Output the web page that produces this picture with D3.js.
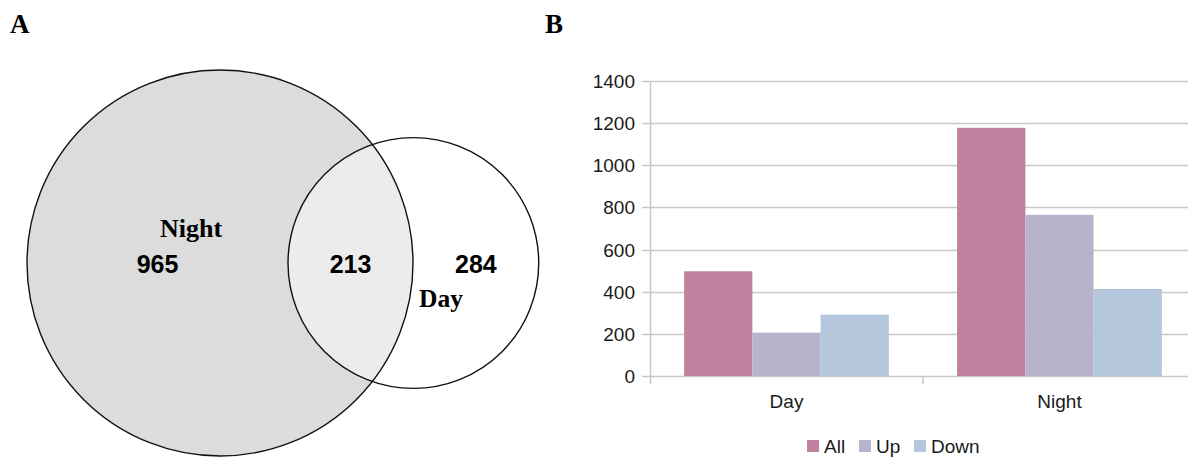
<!DOCTYPE html>
<html>
<head>
<meta charset="utf-8">
<script src="https://cdn.jsdelivr.net/npm/d3@7"></script>
<style>
  body { margin: 0; background: #fff; }
  svg { display: block; }
</style>
</head>
<body>
<div id="chart"></div>
<script>
// dados
const setNames = ["Night", "Day"];
const onlyCounts = [965, 284];   // Night só, Day só
const bothCount = 213;           // interseção

const categories = ["Day", "Night"];
const series = ["All", "Up", "Down"];
const allValues = [497, 1178];
const upValues = [206, 765];
const downValues = [291, 413];
const yTicks = [0, 200, 400, 600, 800, 1000, 1200, 1400];
const colors = ["#c0809e", "#b7b3ca", "#b5c7dc"];

const largura = 1188, altura = 457;

const svg = d3.select("#chart").append("svg")
    .attr("width", largura)
    .attr("height", altura);

// letras dos painéis
svg.append("text").attr("x", 10).attr("y", 33)
    .attr("font-family", "Liberation Serif").attr("font-weight", "bold")
    .attr("font-size", 27).text("A");
svg.append("text").attr("x", 545).attr("y", 33)
    .attr("font-family", "Liberation Serif").attr("font-weight", "bold")
    .attr("font-size", 27).text("B");

// ---------- A: Venn proporcional à área ----------
const totalNight = onlyCounts[0] + bothCount;
const totalDay = onlyCounts[1] + bothCount;
const r = d3.scaleSqrt().domain([0, totalNight]).range([0, 193]);
const r1 = r(totalNight), r2 = r(totalDay);

function lensArea(d) {
  if (d >= r1 + r2) return 0;
  const a1 = Math.acos((d*d + r1*r1 - r2*r2) / (2*d*r1));
  const a2 = Math.acos((d*d + r2*r2 - r1*r1) / (2*d*r2));
  const k = Math.sqrt((-d+r1+r2)*(d+r1-r2)*(d-r1+r2)*(d+r1+r2));
  return r1*r1*a1 + r2*r2*a2 - 0.5*k;
}
const alvo = Math.PI * r(bothCount) ** 2;
let lo = r1 - r2 + 0.01, hi = r1 + r2;
for (let i = 0; i < 60; i++) {
  const mid = (lo + hi) / 2;
  if (lensArea(mid) > alvo) lo = mid; else hi = mid;
}
const dist = (lo + hi) / 2;

const cy = 263;
const c1 = 220, c2 = c1 + dist;

const venn = svg.append("g");
const defs = svg.append("defs");
defs.append("clipPath").attr("id", "clipNight")
  .append("circle").attr("cx", c1).attr("cy", cy).attr("r", r1);

venn.append("circle").attr("cx", c1).attr("cy", cy).attr("r", r1)
    .attr("fill", "#dcdcdc");
venn.append("circle").attr("cx", c2).attr("cy", cy).attr("r", r2)
    .attr("fill", "#ececec").attr("clip-path", "url(#clipNight)");
venn.selectAll("circle.borda")
  .data([[c1, r1], [c2, r2]])
  .join("circle")
    .attr("class", "borda")
    .attr("cx", d => d[0]).attr("cy", cy).attr("r", d => d[1])
    .attr("fill", "none").attr("stroke", "#111").attr("stroke-width", 1.4);

// rótulos nas regiões (ponto médio de cada região no eixo dos centros)
const regiaoX = [
  ((c1 - r1) + (c2 - r2)) / 2,
  ((c2 - r2) + (c1 + r1)) / 2,
  ((c1 + r1) + (c2 + r2)) / 2
];
const regiaoTxt = [onlyCounts[0], bothCount, onlyCounts[1]];
venn.selectAll("text.num")
  .data(regiaoTxt)
  .join("text")
    .attr("class", "num")
    .attr("x", (d, i) => regiaoX[i]).attr("y", 273)
    .attr("text-anchor", "middle")
    .attr("font-family", "Liberation Sans").attr("font-weight", "bold")
    .attr("font-size", 25)
    .text(d => d);

venn.append("text").attr("x", 191).attr("y", 237)
    .attr("text-anchor", "middle")
    .attr("font-family", "Liberation Serif").attr("font-weight", "bold")
    .attr("font-size", 26).text(setNames[0]);
venn.append("text").attr("x", 441).attr("y", 307)
    .attr("text-anchor", "middle")
    .attr("font-family", "Liberation Serif").attr("font-weight", "bold")
    .attr("font-size", 25.5).text(setNames[1]);

// ---------- B: barras agrupadas ----------
const m = {left: 650, right: 1196, top: 81, bottom: 376};

const x = d3.scaleBand().domain(categories).range([m.left, m.right])
    .paddingInner(0.25).paddingOuter(0.125);
const xs = d3.scaleBand().domain(series).range([0, x.bandwidth()]);
const y = d3.scaleLinear().domain([0, 1400]).range([m.bottom, m.top]);

const barras = svg.append("g");
const gridCor = "#c8c8c8";
const fonte = 19;

barras.append("g")
  .selectAll("line")
  .data(yTicks)
  .join("line")
    .attr("x1", m.left - 8).attr("x2", largura)
    .attr("y1", d => Math.round(y(d)) + 0.5).attr("y2", d => Math.round(y(d)) + 0.5)
    .attr("stroke", gridCor).attr("stroke-width", 1.5);

barras.append("g")
  .selectAll("text")
  .data(yTicks)
  .join("text")
    .attr("x", m.left - 15).attr("y", d => y(d) + 7)
    .attr("text-anchor", "end")
    .attr("font-family", "Liberation Sans").attr("font-size", fonte)
    .attr("fill", "#1a1a1a")
    .text(d => d);

const valores = [allValues, upValues, downValues];
const linhas = categories.map((c, i) => ({cat: c, vals: series.map((s, j) => ({s, j, v: valores[j][i]}))}));

barras.append("g")
  .selectAll("g")
  .data(linhas)
  .join("g")
    .attr("transform", d => `translate(${x(d.cat)},0)`)
  .selectAll("rect")
  .data(d => d.vals)
  .join("rect")
    .attr("x", d => xs(d.s))
    .attr("y", d => y(d.v))
    .attr("width", xs.bandwidth())
    .attr("height", d => y(0) - y(d.v))
    .attr("fill", d => colors[d.j]);

// eixo vertical e separadores de categoria
barras.append("line")
    .attr("x1", m.left + 0.5).attr("x2", m.left + 0.5)
    .attr("y1", m.top).attr("y2", m.bottom + 8)
    .attr("stroke", gridCor).attr("stroke-width", 1.5);
barras.append("g")
  .selectAll("line")
  .data(categories.slice(1))
  .join("line")
    .attr("x1", d => x(d) - x.step() * x.paddingInner() / 2)
    .attr("x2", d => x(d) - x.step() * x.paddingInner() / 2)
    .attr("y1", m.bottom).attr("y2", m.bottom + 8)
    .attr("stroke", gridCor).attr("stroke-width", 1.5);

barras.append("g")
  .selectAll("text")
  .data(categories)
  .join("text")
    .attr("x", d => x(d) + x.bandwidth() / 2).attr("y", 408)
    .attr("text-anchor", "middle")
    .attr("font-family", "Liberation Sans").attr("font-size", fonte)
    .attr("fill", "#1a1a1a")
    .text(d => d);

// legenda
const legX = [807, 859, 914];
const leg = svg.append("g")
  .selectAll("g")
  .data(series)
  .join("g")
    .attr("transform", (d, i) => `translate(${legX[i]},446)`);
leg.append("rect").attr("x", 0).attr("y", -6).attr("width", 12).attr("height", 12)
    .attr("fill", (d, i) => colors[i]);
leg.append("text").attr("x", 17).attr("y", 7)
    .attr("font-family", "Liberation Sans").attr("font-size", fonte)
    .attr("fill", "#1a1a1a")
    .text(d => d);
</script>
</body>
</html>
